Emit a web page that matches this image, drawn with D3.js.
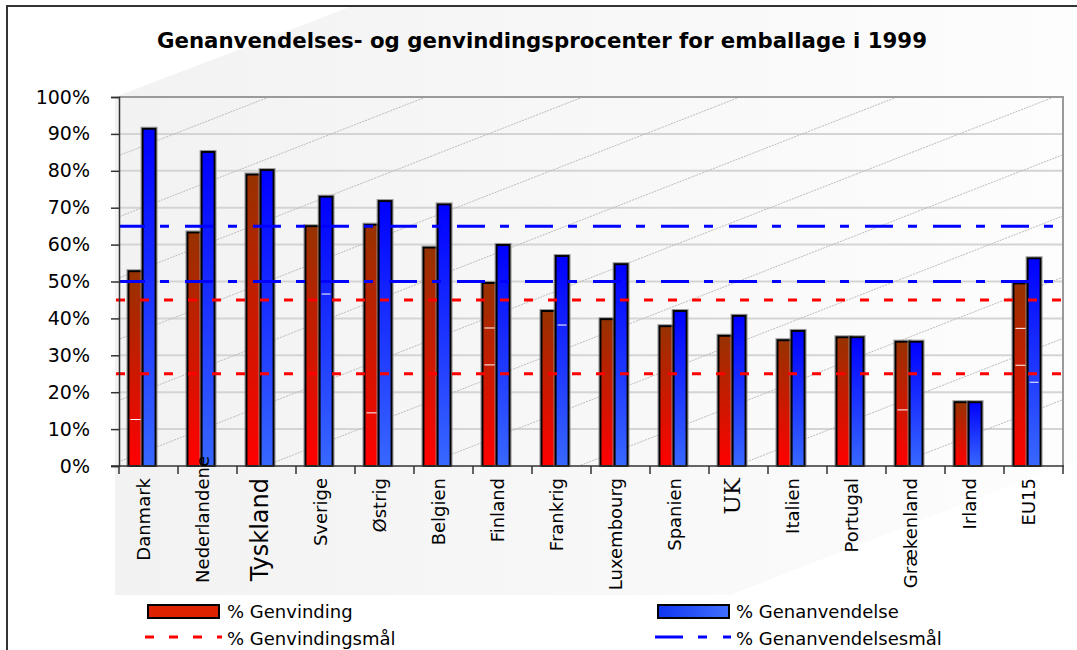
<!DOCTYPE html>
<html>
<head>
<meta charset="utf-8">
<script src="https://cdn.jsdelivr.net/npm/d3@7"></script>
<style>
  body { margin: 0; background: #fff; }
  svg text { font-family: "DejaVu Sans", Verdana, sans-serif; fill: #000; }
</style>
</head>
<body>
<svg id="chart" width="1077" height="650"></svg>
<script>
// data (percent)
var countries = ["Danmark", "Nederlandene", "Tyskland", "Sverige", "Østrig", "Belgien", "Finland",
  "Frankrig", "Luxembourg", "Spanien", "UK", "Italien", "Portugal", "Grækenland", "Irland", "EU15"];
var genvinding = [52.8, 63.3, 79.0, 65.0, 65.4, 59.2, 49.6, 42.0, 39.8, 37.9, 35.3, 34.1, 34.9, 33.7, 17.3, 49.5];
var genanvendelse = [91.4, 85.1, 80.2, 73.0, 71.8, 70.9, 59.9, 56.9, 54.7, 42.0, 40.7, 36.6, 34.9, 33.7, 17.3, 56.3];
var genvindingsmaal = [25, 45];
var genanvendelsesmaal = [50, 65];
var yTicks = [0, 10, 20, 30, 40, 50, 60, 70, 80, 90, 100];
// the little white marks inside some bars: [country, series, value]
var whiteMarks = [["Danmark", 0, 12.6], ["Sverige", 1, 46.6], ["Østrig", 0, 14.4], ["Finland", 0, 37.4],
  ["Finland", 0, 27.4], ["Frankrig", 1, 38.2], ["Grækenland", 0, 15.2], ["EU15", 0, 37.3],
  ["EU15", 0, 27.3], ["EU15", 1, 22.7]];
var titleText = "Genanvendelses- og genvindingsprocenter for emballage i 1999";

var svg = d3.select("#chart");
var pL = 119, pR = 1063, pT = 97, pB = 466;

var x = d3.scaleBand().domain(countries).range([pL, pR]).padding(0);
var y = d3.scaleLinear().domain([0, 100]).range([pB, pT]);
var bw = x.bandwidth();

var defs = svg.append("defs");
var bg = defs.append("linearGradient").attr("id", "bg").attr("x1", 0).attr("x2", 1).attr("y1", 0).attr("y2", 0);
bg.append("stop").attr("offset", "0%").attr("stop-color", "#f2f2f2");
bg.append("stop").attr("offset", "100%").attr("stop-color", "#fdfdfd");
var rg = defs.append("linearGradient").attr("id", "redg").attr("x1", 0).attr("x2", 0).attr("y1", 0).attr("y2", 1);
rg.append("stop").attr("offset", "0%").attr("stop-color", "#963200");
rg.append("stop").attr("offset", "100%").attr("stop-color", "#ff0000");
var bgr = defs.append("linearGradient").attr("id", "blueg").attr("x1", 0).attr("x2", 0).attr("y1", 0).attr("y2", 1);
bgr.append("stop").attr("offset", "0%").attr("stop-color", "#0000ff");
bgr.append("stop").attr("offset", "100%").attr("stop-color", "#3868ff");
var lg = defs.append("linearGradient").attr("id", "blueleg").attr("x1", 0).attr("x2", 1).attr("y1", 0).attr("y2", 0);
lg.append("stop").attr("offset", "0%").attr("stop-color", "#1034f0");
lg.append("stop").attr("offset", "100%").attr("stop-color", "#4070ff");
defs.append("clipPath").attr("id", "plotclip").append("rect")
  .attr("x", pL).attr("y", pT).attr("width", pR - pL).attr("height", pB - pT);
defs.append("clipPath").attr("id", "labclip").append("rect")
  .attr("x", 0).attr("y", 0).attr("width", 1077).attr("height", 597);

// shaded diagonal band behind the chart
var slope = 0.39;
svg.append("path")
  .attr("d", "M115," + pT + " L" + (pL + (pT - 6) / slope) + ",6 L1077,6 L1077," + (595 - (1077 - 730) * slope) +
    " L730,595 L115,595 Z")
  .attr("fill", "url(#bg)");

// gridlines
svg.append("g").selectAll("line").data(yTicks.filter(function(d){ return d > 0 && d < 100; }))
  .join("line")
  .attr("x1", pL).attr("x2", pR)
  .attr("y1", function(d){ return y(d); }).attr("y2", function(d){ return y(d); })
  .attr("stroke", "#d4d4d4").attr("stroke-width", 2);

// diagonal dotted lines in the plot
var diag = svg.append("g").attr("clip-path", "url(#plotclip)");
for (var k = -1; k < 12; k++) {
  var x0 = 112 + 157 * k;
  diag.append("line")
    .attr("x1", x0 - 1000).attr("y1", pT + 1000 * slope)
    .attr("x2", x0 + 400).attr("y2", pT - 400 * slope)
    .attr("stroke", "#bcbcbc").attr("stroke-width", 1).attr("stroke-dasharray", "2,1");
}

// plot border (top and right, gray)
svg.append("path").attr("d", "M" + pL + "," + pT + " H" + pR + " V" + pB)
  .attr("fill", "none").attr("stroke", "#9a9a9a").attr("stroke-width", 2);

// bars
var redOff = 0.16 * bw, redW = 0.24 * bw, blueW = 0.22 * bw;
function barGroup(vals, xoff, w, fill) {
  var g = svg.append("g");
  g.selectAll("rect.halo").data(vals).join("rect").attr("class", "halo")
    .attr("x", function(d, i){ return x(countries[i]) + xoff - 1.5; })
    .attr("y", function(d){ return y(d) - 1.5; })
    .attr("width", w + 3)
    .attr("height", function(d){ return pB - y(d) + 1.5; })
    .attr("fill", "none").attr("stroke", "#999").attr("stroke-width", 1);
  g.selectAll("rect.bar").data(vals).join("rect").attr("class", "bar")
    .attr("x", function(d, i){ return x(countries[i]) + xoff; })
    .attr("y", function(d){ return y(d); })
    .attr("width", w)
    .attr("height", function(d){ return pB - y(d); })
    .attr("fill", fill).attr("stroke", "#000").attr("stroke-width", 2);
}
barGroup(genvinding, redOff, redW, "url(#redg)");
barGroup(genanvendelse, redOff + redW, blueW, "url(#blueg)");

svg.append("g").selectAll("line").data(whiteMarks).join("line")
  .attr("x1", function(d){ return x(d[0]) + redOff + (d[1] ? redW + 2 : 2); })
  .attr("x2", function(d){ return x(d[0]) + redOff + (d[1] ? redW + blueW - 2 : redW - 2); })
  .attr("y1", function(d){ return y(d[2]); }).attr("y2", function(d){ return y(d[2]); })
  .attr("stroke", "#fff").attr("stroke-width", 1);

// goal lines
var goals = svg.append("g").attr("clip-path", "url(#plotclip)");
goals.selectAll("line.b").data(genanvendelsesmaal).join("line").attr("class", "b")
  .attr("x1", 117).attr("x2", pR)
  .attr("y1", function(d){ return y(d); }).attr("y2", function(d){ return y(d); })
  .attr("stroke", "#0000ff").attr("stroke-width", 3).attr("stroke-dasharray", "28,15,9,16");
svg.append("g").selectAll("line.r").data(genvindingsmaal).join("line").attr("class", "r")
  .attr("x1", 116).attr("x2", 1062)
  .attr("y1", function(d){ return y(d); }).attr("y2", function(d){ return y(d); })
  .attr("stroke", "#ff0000").attr("stroke-width", 3).attr("stroke-dasharray", "9,15");

// y axis
var yAxis = svg.append("g").attr("transform", "translate(" + pL + ",0)")
  .call(d3.axisLeft(y).tickValues(yTicks).tickFormat(function(d){ return d + "%"; }).tickSize(8).tickPadding(21));
yAxis.select(".domain").attr("stroke", "#333").attr("stroke-width", 1.5);
yAxis.selectAll(".tick line").attr("stroke", "#333").attr("stroke-width", 1.5);
yAxis.selectAll("text").style("font-size", "19px").style("font-family", "DejaVu Sans").attr("fill", "#000");

// x axis line and ticks at category boundaries
var xg = svg.append("g");
xg.append("line").attr("x1", 111).attr("x2", pR + 1).attr("y1", pB).attr("y2", pB)
  .attr("stroke", "#333").attr("stroke-width", 1.5);
xg.selectAll("line.t").data(countries.concat(["_end"])).join("line").attr("class", "t")
  .attr("x1", function(d, i){ return pL + i * bw; }).attr("x2", function(d, i){ return pL + i * bw; })
  .attr("y1", pB).attr("y2", pB + 8)
  .attr("stroke", "#333").attr("stroke-width", 1.5);

// category labels (the long one overflows upward into the plot, as in the original)
var labelFont = { "Tyskland": ["DejaVu Sans", "24px"], "UK": ["DejaVu Serif", "23px"] };
var labelTop = { "Nederlandene": 456 };
svg.append("g").attr("clip-path", "url(#labclip)").selectAll("text").data(countries).join("text")
  .attr("transform", function(d){ return "translate(" + (x(d) + redOff + redW + 7) + "," + (labelTop[d] || 478) + ") rotate(-90)"; })
  .attr("text-anchor", "end")
  .style("font-family", function(d){ return labelFont[d] ? labelFont[d][0] : "DejaVu Sans"; })
  .style("font-size", function(d){ return labelFont[d] ? labelFont[d][1] : "18px"; })
  .text(function(d){ return d; });

// title
svg.append("text").attr("x", 542).attr("y", 48).attr("text-anchor", "middle")
  .style("font-size", "22px").style("font-weight", "bold")
  .attr("textLength", 770).attr("lengthAdjust", "spacingAndGlyphs")
  .text(titleText);

// legend
var leg = svg.append("g").style("font-size", "18px");
leg.append("rect").attr("x", 148).attr("y", 605).attr("width", 71).attr("height", 13)
  .attr("fill", "#dd2200").attr("stroke", "#000").attr("stroke-width", 2);
leg.append("text").attr("x", 227).attr("y", 618).text("% Genvinding");
leg.append("line").attr("x1", 145).attr("x2", 222).attr("y1", 637).attr("y2", 637)
  .attr("stroke", "#ff0000").attr("stroke-width", 3).attr("stroke-dasharray", "9,15");
leg.append("text").attr("x", 227).attr("y", 645).text("% Genvindingsmål");
leg.append("rect").attr("x", 658).attr("y", 605).attr("width", 71).attr("height", 13)
  .attr("fill", "url(#blueleg)").attr("stroke", "#000").attr("stroke-width", 2);
leg.append("text").attr("x", 736).attr("y", 618).text("% Genanvendelse");
leg.append("line").attr("x1", 655).attr("x2", 731).attr("y1", 637).attr("y2", 637)
  .attr("stroke", "#0000ff").attr("stroke-width", 3).attr("stroke-dasharray", "28,15,9,16");
leg.append("text").attr("x", 736).attr("y", 645).text("% Genanvendelsesmål");

// outer frame
svg.append("path").attr("d", "M7,650 V6 H1077").attr("fill", "none").attr("stroke", "#333").attr("stroke-width", 2);
</script>
</body>
</html>
